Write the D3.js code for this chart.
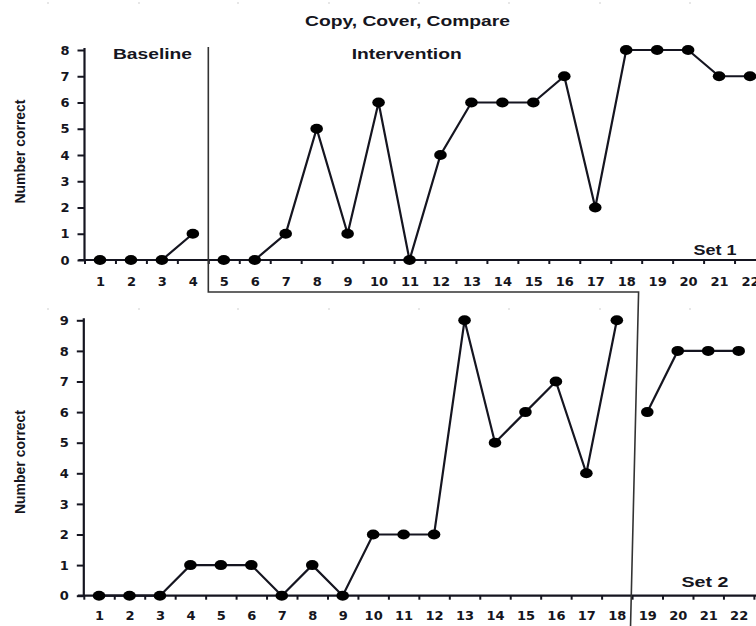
<!DOCTYPE html>
<html><head><meta charset="utf-8">
<script src="https://cdn.jsdelivr.net/npm/d3@7"></script>
<style>body{margin:0;background:#fff}svg{display:block}</style>
</head><body>
<script>
// ---- data ----
const sessions = d3.range(1, 23);
const set1Baseline = [{s:1,v:0},{s:2,v:0},{s:3,v:0},{s:4,v:1}];
const set1Intervention = [5,6,7,8,9,10,11,12,13,14,15,16,17,18,19,20,21,22]
  .map((s,i)=>({s, v:[0,0,1,5,1,6,0,4,6,6,6,7,2,8,8,8,7,7][i]}));
const set2Baseline = [1,2,3,4,5,6,7,8,9,10,11,12,13,14,15,16,17,18]
  .map((s,i)=>({s, v:[0,0,0,1,1,1,0,1,0,2,2,2,9,5,6,7,4,9][i]}));
const set2Intervention = [19,20,21,22].map((s,i)=>({s, v:[6,8,8,8][i]}));
const set1YTicks = [0,1,2,3,4,5,6,7,8];
const set2YTicks = [0,1,2,3,4,5,6,7,8,9];

const W = 756, H = 626;
const svg = d3.select("body").append("svg").attr("width", W).attr("height", H);
const ink = "#151520";
const tickFont = "'DejaVu Sans', Verdana, sans-serif";
const labelFont = "'Liberation Sans', Arial, sans-serif";

// faint artefact dots
[3, 309].forEach(yy => [48,139,238,329,419,509,600,690].forEach(xx => {
  svg.append("circle").attr("cx", xx).attr("cy", yy).attr("r", 0.8).attr("fill", "#c8c8c8");
}));

function boldText(x, y, txt, size, len) {
  return svg.append("text").attr("x", x).attr("y", y).attr("text-anchor", "middle")
    .attr("font-family", labelFont).attr("font-weight", "bold").attr("font-size", size)
    .attr("fill", ink).attr("textLength", len).attr("lengthAdjust", "spacingAndGlyphs").text(txt);
}

function panel(cfg) {
  const g = svg.append("g");
  const x = d3.scaleLinear().domain([0.5, 22.5]).range(cfg.xr);
  const y = d3.scaleLinear().domain([0, cfg.ymax]).range(cfg.yr);

  // y axis
  const ya = d3.axisLeft(y).tickValues(cfg.yticks).tickSize(7).tickSizeOuter(0).tickPadding(8).tickFormat(d3.format("d"));
  const yg = g.append("g").attr("transform", `translate(${x(0.5)},0)`).call(ya);
  yg.select(".domain").attr("stroke", ink).attr("stroke-width", 2.2)
    .attr("d", `M0,${y(cfg.ymax)-2}V${y(0)}`);
  yg.selectAll(".tick line").attr("stroke", ink).attr("stroke-width", 2);
  yg.selectAll("text").attr("font-family", tickFont).attr("font-weight", "bold")
    .attr("font-size", 13).attr("fill", ink);

  // x axis ticks at boundaries
  const bounds = d3.range(0.5, 23, 1);
  const xa = d3.axisBottom(x).tickValues(bounds).tickSize(4).tickFormat("");
  const xg = g.append("g").attr("transform", `translate(0,${y(0)})`).call(xa);
  xg.select(".domain").attr("stroke", ink).attr("stroke-width", 2.2).attr("d", `M${x(0.5)-6},0H${W}`);
  xg.selectAll(".tick line").attr("stroke", ink).attr("stroke-width", 2);
  // x labels
  const xl = d3.axisBottom(x).tickValues(sessions).tickSize(0).tickPadding(cfg.xpad).tickFormat(d3.format("d"));
  const xlg = g.append("g").attr("transform", `translate(0,${y(0)})`).call(xl);
  xlg.select(".domain").remove();
  xlg.selectAll("text").attr("font-family", tickFont).attr("font-weight", "bold")
    .attr("font-size", 13).attr("fill", ink);

  // y label
  g.append("text").attr("transform", `translate(25,${cfg.labelY}) rotate(-90)`)
    .attr("text-anchor", "middle").attr("font-family", labelFont).attr("font-weight", "bold")
    .attr("font-size", 15).attr("textLength", 104).attr("lengthAdjust", "spacingAndGlyphs")
    .attr("fill", ink).text("Number correct");

  const line = d3.line().x(d => x(d.s)).y(d => y(d.v));
  cfg.series.forEach(s => {
    g.append("path").datum(s).attr("d", line).attr("fill", "none")
      .attr("stroke", ink).attr("stroke-width", 2.2);
    g.selectAll(null).data(s).join("ellipse")
      .attr("cx", d => x(d.s)).attr("cy", d => y(d.v)).attr("rx", 6.3).attr("ry", 5)
      .attr("fill", "#000");
  });
  return {x, y};
}

const p1 = panel({xr:[84.5, 765.5], yr:[260, 50], ymax:8, yticks:set1YTicks, xpad:17, labelY:151.5,
  series:[set1Baseline, set1Intervention]});
const p2 = panel({xr:[83.8, 753.9], yr:[595.7, 320.3], ymax:9, yticks:set2YTicks, xpad:15, labelY:462,
  series:[set2Baseline, set2Intervention]});

// title, phase and set labels
boldText(407.5, 26, "Copy, Cover, Compare", 15, 205);
boldText(152.5, 59, "Baseline", 15, 79);
boldText(406.7, 59, "Intervention", 15, 110);
boldText(715, 255, "Set 1", 15, 43);
boldText(705, 587, "Set 2", 15, 47);

// phase change line
const px1 = p1.x(4.5), stepY = 292;
const px2top = p1.x(18.4), px2bot = p2.x(18.45);
svg.append("path").attr("fill", "none").attr("stroke", "#333").attr("stroke-width", 1.6)
  .attr("d", `M${px1},${p1.y(8)-3}V${stepY}H${px2top}L${px2bot},${H}`);
</script>
</body></html>
